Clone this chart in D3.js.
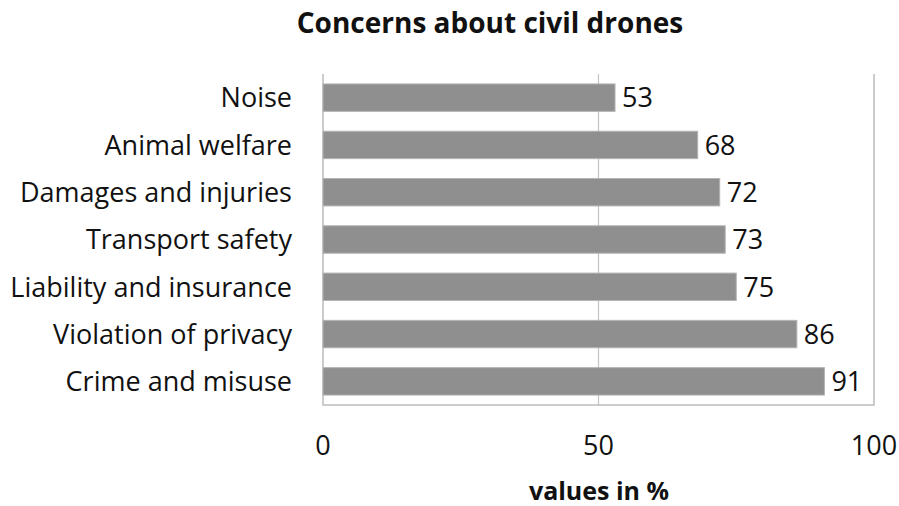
<!DOCTYPE html>
<html>
<head>
<meta charset="utf-8">
<script src="https://cdn.jsdelivr.net/npm/d3@7"></script>
<style>
  body { margin: 0; background: #fff; }
  text { font-family: "Open Sans", "Noto Sans", sans-serif; fill: #111; }
</style>
</head>
<body>
<div id="chart"></div>
<script>
// chart data
var categories = ['Noise', 'Animal welfare', 'Damages and injuries', 'Transport safety',
                  'Liability and insurance', 'Violation of privacy', 'Crime and misuse'];
var values = [53, 68, 72, 73, 75, 86, 91];
var ticks = [0, 50, 100];

var width = 899, height = 506;
// plot box (window.top is reserved, so prefix these)
var plotLeft = 323, plotRight = 874, plotTop = 74, plotBottom = 405;

var svg = d3.select('#chart').append('svg')
    .attr('width', width)
    .attr('height', height);

var x = d3.scaleLinear().domain([0, 100]).range([plotLeft, plotRight]);
var y = d3.scaleBand().domain(categories).range([plotTop, plotBottom]).paddingInner(0.42).paddingOuter(0.21);

// gridlines
svg.append('g').selectAll('line')
    .data(ticks.slice(1, -1))
    .enter().append('line')
    .attr('x1', function(d) { return x(d); })
    .attr('x2', function(d) { return x(d); })
    .attr('y1', plotTop)
    .attr('y2', plotBottom)
    .attr('stroke', '#c4c4c4')
    .attr('stroke-width', 1.2);

// plot border (no top)
svg.append('path')
    .attr('d', 'M' + plotLeft + ',' + plotTop + 'V' + plotBottom + 'H' + plotRight + 'V' + plotTop)
    .attr('fill', 'none')
    .attr('stroke', '#bcbcbc')
    .attr('stroke-width', 1.5);

// bars
svg.append('g').selectAll('rect')
    .data(values)
    .enter().append('rect')
    .attr('x', x(0))
    .attr('y', function(d, i) { return y(categories[i]); })
    .attr('width', function(d) { return x(d) - x(0); })
    .attr('height', y.bandwidth())
    .attr('fill', '#8f8f8f')
    .attr('stroke', '#b4b4b4')
    .attr('stroke-width', 1);

// value labels
svg.append('g').selectAll('text')
    .data(values)
    .enter().append('text')
    .attr('x', function(d) { return x(d) + 7; })
    .attr('y', function(d, i) { return y(categories[i]) + y.bandwidth() / 2; })
    .attr('dy', '0.36em')
    .style('font-size', '27px')
    .text(function(d) { return d; });

// category labels
svg.append('g').selectAll('text')
    .data(categories)
    .enter().append('text')
    .attr('x', 292)
    .attr('y', function(d) { return y(d) + y.bandwidth() / 2; })
    .attr('dy', '0.36em')
    .attr('text-anchor', 'end')
    .style('font-size', '27px')
    .text(function(d) { return d; });

// x tick labels
svg.append('g').selectAll('text')
    .data(ticks)
    .enter().append('text')
    .attr('x', function(d) { return x(d); })
    .attr('y', 455)
    .attr('text-anchor', 'middle')
    .style('font-size', '27px')
    .text(function(d) { return d; });

// title
svg.append('text')
    .attr('x', 490)
    .attr('y', 33)
    .attr('text-anchor', 'middle')
    .style('font-size', '28px')
    .style('font-weight', 'bold')
    .text('Concerns about civil drones');

// axis title
svg.append('text')
    .attr('x', 599)
    .attr('y', 500)
    .attr('text-anchor', 'middle')
    .style('font-size', '25px')
    .style('font-weight', 'bold')
    .text('values in %');
</script>
</body>
</html>
